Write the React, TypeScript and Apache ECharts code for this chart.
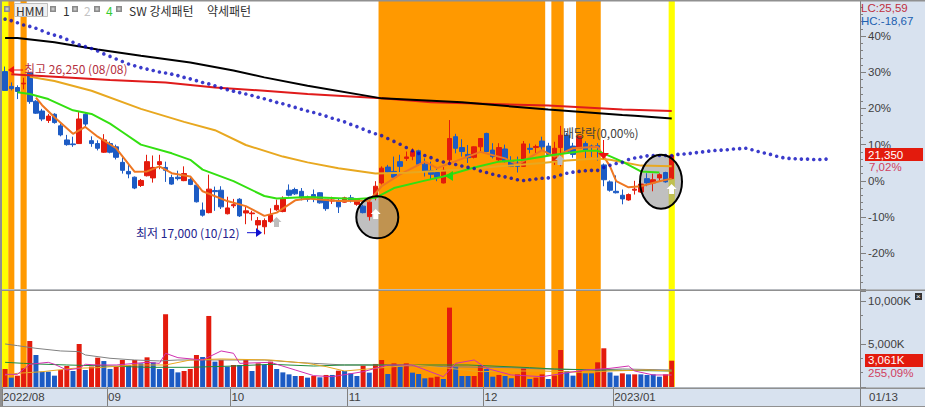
import React, { useEffect, useRef } from "react";
import * as echarts from "echarts";

const SLOT_COUNT = 139;
const monthTicks: Record<number, string> = { 0: "2022/08", 17: "09", 37: "10", 56: "11", 78: "12", 99: "2023/01" };

// open, close, low, high, in % of the previous close
const candles: number[][] = [
  [30.2,25.0,25.0,31.6],[26.1,25.5,25.0,27.2],[25.8,24.7,22.6,26.4],[26.8,27.0,25.3,28.5],[29.9,21.9,21.3,30.0],
  [22.0,18.7,18.5,22.3],[19.3,17.1,16.5,19.9],[16.7,17.9,16.0,18.5],[18.4,16.1,15.8,18.7],[15.2,12.7,12.3,15.8],
  [11.3,10.0,9.7,12.7],[10.2,10.0,9.4,12.2],[10.3,17.1,10.2,19.0],[18.4,15.7,15.0,19.0],[11.1,10.3,9.4,12.3],
  [10.3,9.0,8.4,11.2],[7.9,11.3,7.7,12.9],[10.3,7.9,7.6,10.9],[9.4,6.5,5.9,10.0],[5.1,2.9,2.0,6.5],
  [2.6,1.9,0.7,4.5],[1.0,-2.0,-2.3,1.2],[-1.3,0.1,-1.7,0.5],[1.4,5.3,1.2,7.2],[0.8,3.7,-0.5,7.0],
  [4.5,5.3,3.2,7.2],[3.7,2.9,-0.3,5.3],[0.9,-0.9,-1.1,1.7],[1.0,0.6,0.1,2.8],[0.05,2.0,-0.1,4.0],
  [0.4,-1.0,-1.2,0.9],[-1.2,-5.8,-6.0,-1.0],[-8.1,-9.5,-9.9,-6.0],[-8.8,-2.3,-9.0,1.7],[-2.7,-3.0,-8.3,-1.6],
  [-2.6,-7.2,-7.8,-1.5],[-9.1,-7.5,-9.3,-4.4],[-6.9,-6.6,-7.5,-5.0],[-5.1,-9.7,-10.0,-4.8],[-8.9,-8.3,-12.0,-7.2],
  [-9.1,-8.9,-11.0,-8.3],[-12.2,-11.0,-13.5,-10.0],[-12.7,-11.0,-14.8,-10.4],[-11.3,-9.4,-11.6,-7.6],[-8.0,-6.8,-8.3,-5.2],
  [-8.5,-4.9,-8.7,-4.3],[-2.6,-4.0,-4.3,-1.0],[-2.4,-3.6,-3.9,-1.9],[-2.9,-4.7,-5.4,-2.0],[-4.8,-5.1,-5.8,-4.1],
  [-3.8,-4.7,-5.9,-2.4],[-3.3,-6.1,-6.3,-3.1],[-5.1,-7.7,-8.3,-5.0],[-5.6,-5.3,-6.4,-4.4],[-5.6,-7.2,-8.9,-4.8],
  [-5.9,-4.7,-6.0,-4.4],[-4.7,-5.3,-6.0,-3.9],[-6.5,-5.1,-6.9,-5.0],[-7.0,-8.8,-9.0,-6.6],[-9.9,-5.9,-11.0,-5.6],
  [-4.4,-1.5,-5.4,-0.1],[-0.6,3.5,-1.0,4.0],[3.8,2.4,1.9,4.4],[2.6,1.0,0.8,6.7],[5.3,4.0,1.9,7.2],
  [6.2,6.6,5.5,8.1],[6.8,8.1,5.7,9.0],[8.3,4.6,4.1,8.6],[4.6,2.6,1.2,6.2],[2.8,1.8,0.3,5.3],
  [2.3,1.0,-0.1,3.2],[-0.6,2.9,-0.7,3.8],[5.8,11.7,4.9,16.8],[12.2,9.0,7.6,13.0],[9.2,8.1,6.7,11.5],
  [7.3,6.4,4.9,9.9],[6.5,9.4,6.2,9.5],[9.4,11.7,8.1,11.8],[13.1,8.1,7.9,13.3],[8.5,6.7,6.2,10.4],
  [5.8,9.2,5.5,10.4],[8.8,5.3,5.1,10.0],[5.6,4.0,3.8,6.8],[4.9,4.0,2.3,6.7],[4.0,10.2,3.9,11.0],
  [9.0,8.7,7.6,10.3],[9.2,9.5,7.7,10.0],[11.0,9.4,8.5,12.2],[9.6,7.3,7.1,10.5],[5.3,9.0,4.4,10.8],
  [9.2,12.6,4.0,15.2],[12.6,8.1,7.9,13.2],[9.6,7.3,6.4,10.5],[9.0,12.3,8.8,12.5],[10.3,8.5,6.3,10.9],
  [9.6,9.2,6.6,10.0],[9.7,9.3,5.6,10.4],[4.4,0.3,-1.5,4.8],[-0.3,-2.6,-3.0,0.1],[-2.9,-3.3,-3.5,1.5],
  [-4.0,-5.0,-6.5,-2.4],[-5.3,-3.8,-5.5,-3.5],[-2.6,-2.3,-3.8,0.0],[-3.1,-0.9,-3.3,-0.4],[0.6,-0.6,-1.5,2.1],
  [-0.6,0.3,-2.9,2.0],[0.8,1.7,-0.3,2.1],[2.3,-0.3,-0.5,2.5],[0.6,7.02,0.5,7.2],
];

const leadDots = [
  44.7,44.3,43.7,43.1,42.7,42.2,41.5,40.8,40.3,39.8,39.1,38.3,37.6,37.1,36.6,35.9,35.1,34.4,33.7,33.0,
  32.3,31.8,31.3,30.9,30.5,30.1,29.8,29.5,29.1,28.6,28.2,27.7,27.2,26.8,26.3,25.7,25.2,24.8,24.4,24.0,
  23.6,23.1,22.7,22.2,21.7,21.3,20.8,20.3,19.8,19.3,18.9,18.4,17.9,17.3,16.8,16.3,15.6,15.0,14.3,13.6,
  13.0,12.5,11.7,10.9,10.1,9.2,8.3,7.6,7.0,6.4,5.7,5.2,4.8,4.5,4.1,3.7,3.4,2.7,2.3,1.8,
  1.4,1.1,0.7,0.3,0.1,0.3,0.5,0.7,0.8,1.1,1.6,2.1,2.4,2.6,2.8,2.9,2.9,3.7,4.3,4.8,
  5.1,5.9,6.3,6.6,6.9,7.0,7.0,7.0,7.0,7.3,7.4,7.6,7.8,8.0,8.2,8.4,8.5,8.6,8.8,8.9,
  9.0,8.6,8.1,7.7,7.3,6.8,6.4,6.2,6.1,6.0,6.0,5.9,5.9,6.0,
];

const blackMa = [[0,39.5],[2,39.5],[8,38.3],[15,36.3],[22,34.6],[30,32.7],[37,30.5],[42,28.6],[49,26.3],[61,22.8],[74,21.7],[88,19.7],[100,18.2],[102,18.0],[108,17.2]];
const redMa = [[1,29.5],[8,28.8],[17,27.9],[26,27.2],[34,25.8],[42,24.9],[49,24.0],[61,22.8],[69,21.7],[88,20.8],[100,19.7],[108,19.3]];
const goldMa = [[4,28.8],[8,27.6],[14,24.9],[22,19.9],[29,16.3],[34,14.0],[39,9.9],[45,6.7],[49,5.1],[54,3.5],[60,2.0],[65,2.2],[75,3.2],[80,4.0],[87,4.9],[91,5.6],[96,6.2],[98,5.8],[103,4.2],[108,4.0]];
const greenMa = [[2,24.5],[4,24.0],[7,22.6],[11,19.5],[14,18.5],[17,15.8],[19,13.5],[22,10.0],[27,7.6],[30,5.8],[32,3.1],[37,-0.1],[42,-4.2],[44,-4.9],[49,-4.5],[57,-5.0],[60,-4.7],[63,-2.0],[68,0.05],[71,1.2],[76,3.7],[80,5.3],[84,5.8],[89,7.2],[94,8.3],[96,8.3],[100,5.3],[103,2.6],[106,2.3]];
const orangeMa = [[5,23.0],[6,20.9],[8,17.6],[11,13.0],[13,14.9],[15,12.2],[18,9.0],[21,2.5],[23,2.6],[25,4.0],[27,2.1],[30,1.2],[32,-2.9],[36,-5.6],[39,-7.0],[42,-9.7],[44,-8.8],[47,-5.4],[49,-4.9],[54,-5.6],[59,-5.5],[61,-1.5],[64,1.8],[68,5.3],[70,3.5],[77,8.0],[81,6.2],[83,4.5],[87,8.5],[89,6.7],[92,9.0],[96,9.4],[98,4.0],[99,-0.1],[101,-1.8],[103,-1.5],[106,-0.1],[108,0.6]];

const volumes = [
  2095,1086,1320,2170,5350,3720,1780,1780,1320,1980,2440,1860,5000,1980,2370,3410,3020,2100,2370,3140,
  2560,3140,2750,3450,2870,2095,8460,2095,1700,1860,2095,3720,3490,8260,2950,3140,2370,2560,2560,3140,
  1860,2750,2560,2950,2095,1700,1470,1280,1280,1086,1280,1125,1400,1400,1900,1860,1590,1280,2480,1670,
  2680,3140,1510,2750,2370,2750,1670,1510,1010,1086,1200,930,9230,2370,1280,1280,1280,2560,2095,1200,
  1400,1280,1010,1470,2170,930,1086,1470,930,1320,4300,1860,1320,1860,1590,1590,2870,4500,1700,1320,
  1590,1470,1470,1470,1400,1470,1200,1470,3061,
];
const redVolumeDays = [0,2,3,4,9,10,12,14,15,18,19,21,23,26,29,30,31,33,35,37,39,41,43,48,50,52,54,58,60,61,63,65,69,70,72,76,77,80,83,84,86,87,89,90,93,96,97,100,102,107,108];

const volGray = [[0,5005],[2,4810],[5,4500],[9,4190],[12,4110],[13,3725],[17,3340],[21,3140],[25,3030],[28,3140],[34,3140],[42,3140],[47,2870],[50,2750],[55,2560],[60,2560],[71,2370],[82,2250],[87,2095],[96,1980],[100,2095],[108,1980]];
const volGreen = [[0,2870],[3,2750],[5,2680],[10,2560],[17,2440],[23,2290],[30,2290],[37,2440],[43,2640],[50,2440],[55,2560],[66,2560],[75,2560],[85,2250],[89,2095],[96,1980],[108,1860]];
const volGold = [[0,1400],[2,1590],[6,1780],[11,2170],[15,2250],[21,2560],[26,2560],[30,3140],[35,3260],[43,3140],[49,2750],[52,2370],[55,1860],[60,2170],[66,2560],[71,2250],[77,1780],[82,1860],[87,1860],[94,1700],[98,1860],[104,1980],[108,1860]];
const volMagenta = [[0,1470],[2,1470],[4,2640],[7,2870],[8,2640],[10,1980],[12,2170],[13,2640],[15,2560],[18,2560],[23,2870],[25,2750],[26,3920],[28,3410],[32,3140],[35,4190],[37,3920],[38,2750],[43,2870],[47,1980],[50,1320],[53,1200],[58,1780],[62,2560],[66,2560],[71,1200],[73,2750],[76,3140],[78,2170],[82,1400],[87,1200],[94,1980],[98,2170],[101,2440],[102,1860],[105,1400],[108,1400]];

// first and last day of each highlighted run
const orangeBands = [[1,1],[3,3],[61,87],[89,90],[93,96]];
const yellowBands = [[0,0],[108,108]];

const KR = '"Noto Sans CJK KR"';
const AXIS_FONT = '"Liberation Sans"';
const RED = "#E31B0D";
const BLUE = "#1C5BC4";
const STRIP = "#D8E2EF";
const AXIS_GREY = "#808080";

const categories = Array.from({ length: SLOT_COUNT }, (_, i) => String(i));

function bandSeries(days: number[][], color: string, axis: number) {
  return {
    type: "custom", xAxisIndex: axis, yAxisIndex: axis, z: 1, silent: true, clip: true,
    data: days, encode: { x: [0, 1] },
    renderItem: (params: any, api: any) => {
      const w = api.size([1, 0])[0];
      const x0 = api.coord([api.value(0), 0])[0] - w / 2;
      const x1 = api.coord([api.value(1), 0])[0] + w / 2;
      return {
        type: "rect",
        shape: { x: x0, y: params.coordSys.y, width: x1 - x0, height: params.coordSys.height },
        style: { fill: color },
      };
    },
  };
}
function lineSeries(data: number[][], color: string, width: number, axis = 0, z = 3) {
  return {
    type: "line", xAxisIndex: axis, yAxisIndex: axis, data, showSymbol: false, symbol: "none",
    lineStyle: { color, width }, z, silent: true,
  };
}
const txt = (text: string, x: number, y: number, fill: string, size = 12, family = KR, z = 20) => ({
  type: "text", z, silent: true,
  style: { text, x, y, fill, font: `${size}px ${family}`, verticalAlign: "middle", align: "left" },
});
const poly = (points: number[][], fill: string, z = 12) => ({ type: "polygon", z, silent: true, shape: { points }, style: { fill } });
const upArrow = (x: number, y: number, fill: string) =>
  poly([[x, y - 5], [x + 5, y], [x + 2.5, y], [x + 2.5, y + 5], [x - 2.5, y + 5], [x - 2.5, y], [x - 5, y]], fill);
const box = (x: number, y: number, width: number, height: number, fill: string, z = 15) => ({
  type: "rect", z, silent: true, shape: { x, y, width, height }, style: { fill },
});
const square = (x: number) => [box(x - 3, 6, 6, 6, "#8A8A8A", 20), box(x - 1.5, 7.5, 3, 3, "#C8C8C8", 21)];
const ell = (cx: number, cy: number, rx: number, ry: number) => [
  { type: "ellipse", z: 1.5, silent: true, shape: { cx, cy, rx, ry }, style: { fill: "rgba(142,142,142,0.56)" } },
  { type: "ellipse", z: 11, silent: true, shape: { cx, cy, rx, ry }, style: { fill: "none", stroke: "#000", lineWidth: 2 } },
];

const graphics: any[] = [
  ...ell(377.3, 217.3, 21, 21),
  ...ell(661, 181.7, 21, 27),
  upArrow(375.7, 214, "#FFFFFF"),
  upArrow(671.6, 189, "#FFFFFF"),
  upArrow(276.5, 222, "#BDBDBD"),
  upArrow(560, 160, "#BDBDBD"),
  poly([[445, 176], [453, 171], [453, 181]], "#22DD11"),
  poly([[598, 153], [609, 153], [603.5, 159]], "#EE1111"),
  { type: "line", z: 12, silent: true, shape: { x1: 603.5, y1: 140, x2: 603.5, y2: 154 }, style: { stroke: "#EE1111", lineWidth: 1 } },
  poly([[8, 70], [14, 66], [14, 74]], "#EE1111"),
  { type: "line", z: 12, silent: true, shape: { x1: 12, y1: 70, x2: 23, y2: 70 }, style: { stroke: "#EE1111", lineWidth: 1 } },
  poly([[262, 232.7], [256, 228], [256, 237]], "#1010D0"),
  { type: "line", z: 12, silent: true, shape: { x1: 247, y1: 232.7, x2: 257, y2: 232.7 }, style: { stroke: "#1010D0", lineWidth: 1 } },
  txt("최고 26,250 (08/08)", 24, 68, "#B53040"),
  txt("최저 17,000 (10/12)", 136, 232, "#23238E"),
  txt("배당락(0,00%)", 563, 132, "#404040"),

  box(0, 0, 925, 1.5, "#909090", 14),
  box(0, 0, 2, 407, "#909090", 14),
  box(0, 289.5, 925, 1.5, "#909090", 14),
  box(0, 387.5, 925, 1.5, "#909090", 14),
  box(0, 406, 925, 1, "#909090", 14),
  box(860, 388, 1, 18, "#808080", 14),

  ...square(7),
  { type: "rect", z: 19, silent: true, shape: { x: 14.5, y: 3.5, width: 33, height: 13 }, style: { fill: "#F0F0F0", stroke: "#BDBDBD", lineWidth: 1 } },
  txt("HMM", 16, 10, "#303030"),
  ...square(53), txt("1", 63, 10, "#303030"),
  ...square(75), txt("2", 84, 10, "#C4C4C4"),
  ...square(97), txt("4", 106, 10, "#33CC33"),
  ...square(119), txt("SW 강세패턴", 129, 10, "#303030"),
  txt("약세패턴", 207, 10, "#303030"),

  txt("LC:25,59", 861, 7.5, "#C03040", 11.5, AXIS_FONT),
  txt("HC:-18,67", 861, 20.5, "#2060B0", 11.5, AXIS_FONT),

  box(865, 148, 58, 13, RED, 18),
  txt("21,350", 868, 154.5, "#FFFFFF", 11.5, AXIS_FONT),
  txt("7,02%", 869, 167, "#D04060", 11.5, AXIS_FONT),
  box(865, 354, 58, 13, RED, 18),
  txt("3,061K", 868, 360, "#FFFFFF", 11.5, AXIS_FONT),
  txt("255,09%", 868, 373, "#D04060", 11.5, AXIS_FONT),
  box(915, 293, 7, 7, "#333333", 18),
  txt("×", 916, 296.5, "#FFFFFF", 8, AXIS_FONT),
  txt("01/13", 869, 397, "#404040", 11.5, AXIS_FONT),
];

const axisTextStyle = { color: "#404040", fontFamily: AXIS_FONT, fontSize: 11.5 };

const option: any = {
  animation: false,
  backgroundColor: STRIP,
  grid: [
    { left: 2, width: 858, top: -3.5, height: 292.8, show: true, backgroundColor: "#FFFFFF", borderWidth: 0 },
    { left: 2, width: 858, top: 291, height: 96, show: true, backgroundColor: "#FFFFFF", borderWidth: 0 },
  ],
  xAxis: [
    { type: "category", gridIndex: 0, data: categories, axisLine: { show: false }, axisTick: { show: false }, axisLabel: { show: false } },
    {
      type: "category", gridIndex: 1, data: categories,
      axisLine: { show: false },
      axisTick: { show: true, length: 19, interval: (i: number) => i in monthTicks, lineStyle: { color: AXIS_GREY } },
      axisLabel: {
        show: true, interval: (i: number) => i in monthTicks, hideOverlap: false,
        formatter: (_: string, i: number) => monthTicks[i] ?? "",
        align: "left", margin: 4, padding: [0, 0, 0, -2], ...axisTextStyle,
      },
    },
  ],
  yAxis: [
    {
      type: "value", gridIndex: 0, position: "right", min: -30, max: 50, interval: 10, splitLine: { show: false },
      axisLine: { show: true, lineStyle: { color: AXIS_GREY } },
      axisTick: { show: true, length: 6, lineStyle: { color: AXIS_GREY } },
      minorTick: { show: true, splitNumber: 5, length: 3, lineStyle: { color: AXIS_GREY } },
      axisLabel: {
        margin: 8, align: "left", ...axisTextStyle,
        formatter: (v: number) => (v >= 50 || v <= -30 ? "" : `${v}%`),
      },
    },
    {
      type: "value", gridIndex: 1, position: "right", min: 0, max: 11163, interval: 5000, splitLine: { show: false },
      axisLine: { show: true, lineStyle: { color: AXIS_GREY } },
      axisTick: { show: true, length: 6, lineStyle: { color: AXIS_GREY } },
      minorTick: { show: true, splitNumber: 3, length: 3, lineStyle: { color: AXIS_GREY } },
      axisLabel: {
        margin: 8, align: "left", ...axisTextStyle,
        formatter: (v: number) => (v === 5000 ? "5,000K" : v === 10000 ? "10,000K" : ""),
      },
    },
  ],
  series: [
    bandSeries(orangeBands, "#FF9900", 0),
    bandSeries(yellowBands, "#FFFF00", 0),
    bandSeries(orangeBands, "#FF9900", 1),
    bandSeries(yellowBands, "#FFFF00", 1),
    {
      type: "candlestick", xAxisIndex: 0, yAxisIndex: 0, data: candles, barWidth: 5, z: 2, silent: true,
      itemStyle: { color: RED, color0: BLUE, borderColor: RED, borderColor0: BLUE, borderWidth: 1 },
    },
    lineSeries(orangeMa, "#EE7722", 2),
    lineSeries(goldMa, "#E8A820", 2),
    lineSeries(greenMa, "#33E011", 2),
    lineSeries(redMa, "#E01B1B", 2),
    lineSeries(blackMa, "#000000", 2),
    {
      type: "scatter", xAxisIndex: 0, yAxisIndex: 0, data: leadDots, symbolSize: 3.6, z: 4, silent: true,
      itemStyle: { color: "#0A0ABE" },
    },
    {
      type: "bar", xAxisIndex: 1, yAxisIndex: 1, data: volumes, barWidth: 5, z: 2, silent: true,
      itemStyle: { color: (p: any) => (redVolumeDays.includes(p.dataIndex) ? RED : BLUE) },
    },
    lineSeries(volGray, "#808080", 1, 1),
    lineSeries(volGreen, "#1E8C3C", 1, 1),
    lineSeries(volGold, "#E8A820", 1, 1),
    lineSeries(volMagenta, "#D030B0", 1, 1),
  ],
  graphic: { elements: graphics },
};

export default function App() {
  const ref = useRef<HTMLDivElement>(null);
  useEffect(() => {
    document.body.style.margin = "0";
    const chart = echarts.init(ref.current!, null, { renderer: "svg" });
    chart.setOption(option);
    return () => chart.dispose();
  }, []);
  return <div ref={ref} style={{ width: 925, height: 407 }} />;
}
